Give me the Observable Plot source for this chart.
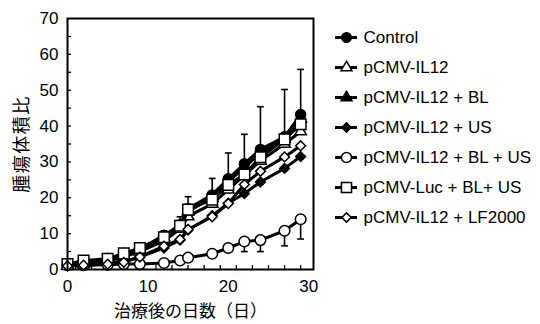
<!DOCTYPE html>
<html><head><meta charset="utf-8">
<script src="https://cdn.jsdelivr.net/npm/d3@7"></script>
<script src="https://cdn.jsdelivr.net/npm/@observablehq/plot@0.6"></script>
<style>
body{margin:0;background:#fff;}
#wrap{position:relative;width:540px;height:324px;font-family:"Liberation Sans","Noto Sans CJK JP",Arial,sans-serif;}
#main{position:absolute;left:0;top:0}
#legend{position:absolute;left:330px;top:0}
.ytitle{letter-spacing:1.5px}
</style></head><body><div id="wrap"><div id="main"></div><div id="legend"></div></div>
<script>
// ---- data ----
const days = [0, 2, 5, 7, 9, 12, 14, 15, 18, 20, 22, 24, 27, 29];
const seriesNames = ["Control", "pCMV-IL12", "pCMV-IL12 + BL", "pCMV-IL12 + US", "pCMV-IL12 + BL + US", "pCMV-Luc + BL+ US", "pCMV-IL12 + LF2000"];
const control   = [1.2, 1.8, 2.8, 4.3, 5.8, 9.5, 12.5, 17.0, 20.8, 25.3, 29.5, 33.5, 37.0, 43.2];
const il12      = [1.0, 1.5, 2.3, 3.5, 5.0, 8.0, 11.3, 14.8, 18.3, 22.3, 26.3, 30.3, 35.0, 38.5];
const il12BL    = [1.0, 1.7, 2.6, 4.0, 5.5, 9.0, 12.0, 16.2, 20.0, 24.5, 28.5, 32.5, 36.5, 42.0];
const il12US    = [1.0, 1.3, 1.7, 2.2, 3.5, 6.0, 8.2, 11.0, 15.0, 18.5, 21.2, 24.4, 28.2, 31.5];
const il12BLUS  = [1.2, 1.2, 1.3, 1.5, 1.5, 1.8, 2.5, 3.3, 4.4, 6.0, 7.8, 8.2, 10.8, 14.0];
const lucBLUS   = [1.5, 2.5, 3.0, 4.5, 6.0, 9.0, 12.2, 16.7, 19.5, 23.6, 26.5, 31.3, 36.3, 40.5];
const il12LF    = [1.0, 1.2, 1.5, 2.0, 3.5, 6.5, 8.4, 11.2, 14.7, 18.4, 23.7, 27.4, 31.4, 34.5];
// error bars
const controlErrDays = [9, 12, 14, 15, 18, 20, 22, 24, 27, 29];
const controlErrTop  = [6.8, 10.8, 14.7, 20.3, 25.4, 32.5, 37.7, 45.4, 50.2, 55.8];
const blusErrDays = [20, 22, 24, 27, 29];
const blusErrLow  = [5.3, 5.0, 5.0, 6.6, 8.5];
// ticks
const xLabelTicks = [0, 10, 20, 30];
const xMinorTicks = [1, 3, 5, 7, 9, 11, 13, 15, 17, 19, 21, 23, 25, 27, 29];
const yLabelTicks = [0, 10, 20, 30, 40, 50, 60, 70];
const yMinorTicks = [5, 10, 15, 20, 25, 30, 35, 40, 45, 50, 55, 60, 65];

const seriesValues = [control, il12, il12BL, il12US, il12BLUS, lucBLUS, il12LF];
const styles = [
  {symbol: "circle", fill: "black", r: 5},
  {symbol: "triangle", fill: "white", r: 4.3},
  {symbol: "triangle", fill: "black", r: 4.3},
  {symbol: "diamond2", fill: "black", r: 4.4},
  {symbol: "circle", fill: "white", r: 5.3},
  {symbol: "square", fill: "white", r: 6},
  {symbol: "diamond2", fill: "white", r: 4.4}
];

const rows = seriesNames.map((name, i) => days.map((d, j) => ({name, day: d, value: seriesValues[i][j]})));
const valAt = (arr, d) => arr[days.indexOf(d)];
const ctrlErr = controlErrDays.map((d, i) => ({day: d, base: valAt(control, d), end: controlErrTop[i]}));
const blusErr = blusErrDays.map((d, i) => ({day: d, base: valAt(il12BLUS, d), end: blusErrLow[i]}));
const errs = ctrlErr.concat(blusErr);

const FONT = 17;
const mainMarks = [
  Plot.axisY({ticks: yMinorTicks, tickSize: -4, text: null, label: null, strokeWidth: 1.3}),
  Plot.axisY({ticks: yLabelTicks, tickSize: 0, tickPadding: 9, fontSize: FONT, label: null}),
  Plot.axisX({ticks: xMinorTicks, tickSize: -4, text: null, label: null, strokeWidth: 1.3}),
  Plot.axisX({ticks: xLabelTicks, tickSize: 0, tickPadding: 10, fontSize: FONT, label: null}),
  Plot.ruleX(errs, {x: "day", y1: "base", y2: "end", stroke: "black", strokeWidth: 1.6}),
  Plot.link(errs, {x1: d => d.day - 0.42, x2: d => d.day + 0.42, y1: "end", y2: "end", stroke: "black", strokeWidth: 1.6})
];
rows.forEach((data, i) => {
  const s = styles[i];
  mainMarks.push(Plot.line(data, {x: "day", y: "value", stroke: "black", strokeWidth: 3}));
  mainMarks.push(Plot.dot(data, {x: "day", y: "value", symbol: s.symbol, r: s.r, fill: s.fill, stroke: "black", strokeWidth: 1.5}));
});
mainMarks.push(Plot.frame({stroke: "black", strokeWidth: 2}));
mainMarks.push(Plot.text(["腫瘍体積比"], {frameAnchor: "left", dx: -45, rotate: -90, textAnchor: "middle", lineAnchor: "middle", fontSize: 18, fill: "#000", fontFamily: "Noto Sans CJK JP", className: "ytitle"}));
mainMarks.push(Plot.text(["治療後の日数（日）"], {frameAnchor: "bottom", dy: 42, textAnchor: "middle", lineAnchor: "middle", fontSize: FONT, fill: "#000", fontFamily: "Noto Sans CJK JP"}));

const main = Plot.plot({
  width: 330, height: 324,
  marginLeft: 67, marginRight: 17, marginTop: 18, marginBottom: 55,
  style: {fontFamily: "Liberation Sans, Arial, sans-serif", fontSize: FONT + "px", color: "black", background: "white", overflow: "visible"},
  x: {domain: [0, 30.6]},
  y: {domain: [0, 70]},
  marks: mainMarks
});
document.getElementById("main").appendChild(main);

// ---- legend ----
const legendRows = seriesNames.map((name, i) => ({name, i}));
const legendMarks = [
  Plot.tickY(legendRows, {x: () => "s", y: "name", stroke: "black", strokeWidth: 3})
];
legendRows.forEach((row, i) => {
  const s = styles[i];
  legendMarks.push(Plot.dot([row], {x: () => "s", y: "name", symbol: s.symbol, r: s.r * 0.95, fill: s.fill, stroke: "black", strokeWidth: 1.5}));
});
legendMarks.push(Plot.text(legendRows, {x: () => "s", y: "name", text: "name", dx: 17, textAnchor: "start", fontSize: FONT, fill: "black"}));
const legend = Plot.plot({
  width: 210, height: 324,
  marginLeft: 5, marginRight: 183, marginTop: 19.7, marginBottom: 90.4,
  style: {fontFamily: "Liberation Sans, Arial, sans-serif", fontSize: FONT + "px", color: "black", background: "white", overflow: "visible"},
  x: {type: "band", domain: ["s"], padding: 0, axis: null},
  y: {type: "band", domain: seriesNames, padding: 0, axis: null},
  marks: legendMarks
});
document.getElementById("legend").appendChild(legend);
</script></body></html>
